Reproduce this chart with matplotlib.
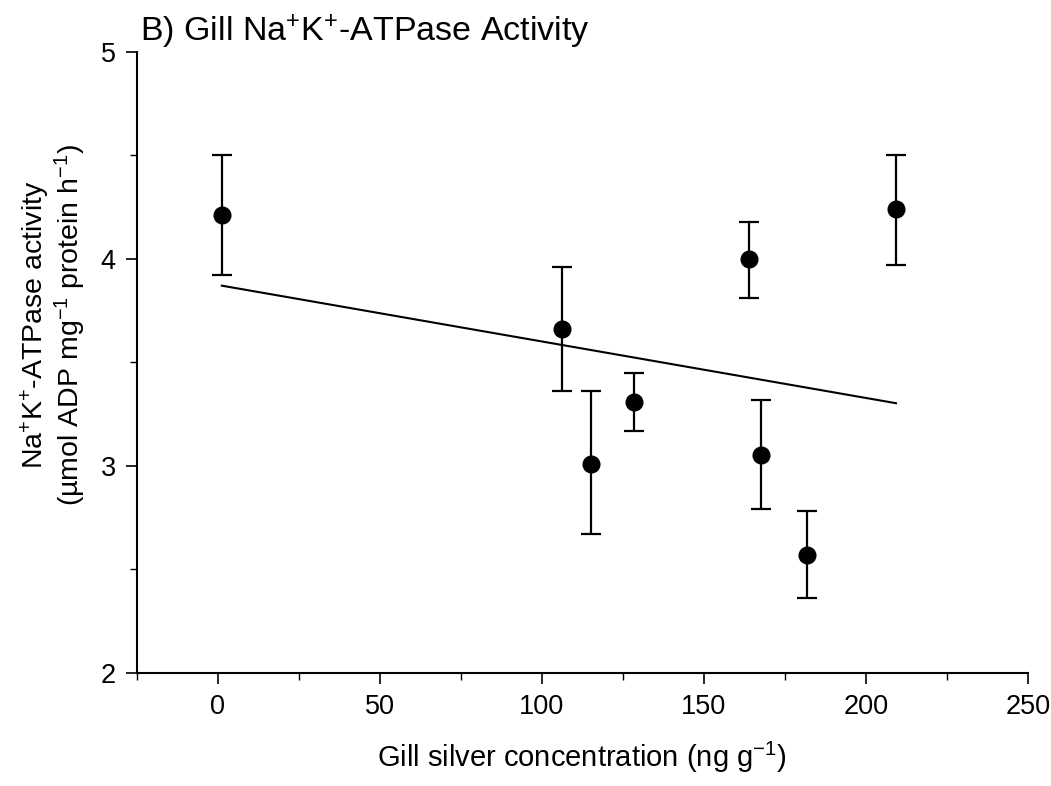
import matplotlib
matplotlib.use('Agg')
import matplotlib.pyplot as plt
import numpy as np
from matplotlib.ticker import MultipleLocator

plt.rcParams['font.family'] = ['Liberation Sans', 'DejaVu Sans']
plt.rcParams['mathtext.fontset'] = 'custom'
plt.rcParams['mathtext.rm'] = 'Liberation Sans'
plt.rcParams['mathtext.it'] = 'Liberation Sans'
plt.rcParams['mathtext.default'] = 'regular'

# values
silver = [1.3, 106.1, 115.2, 128.5, 164.0, 167.7, 181.8, 209.3]
activity = [4.21, 3.66, 3.01, 3.31, 4.00, 3.05, 2.57, 4.24]
err_low = [0.29, 0.30, 0.34, 0.14, 0.19, 0.26, 0.21, 0.27]
err_high = [0.29, 0.30, 0.35, 0.14, 0.18, 0.27, 0.21, 0.26]

# regression line
fit_intercept = 3.874
fit_slope = -0.00273

fig = plt.figure(figsize=(10.51, 7.86), dpi=100)
ax = fig.add_axes([0.130, 0.144, 0.848, 0.790])

ax.errorbar(silver, activity, yerr=[err_low, err_high], fmt='o', color='black',
            markersize=12, ecolor='black', elinewidth=1.6, capsize=7, capthick=1.6)

xfit = np.array([min(silver), max(silver)])
ax.plot(xfit, fit_intercept + fit_slope * xfit, color='black', lw=1.5)

ax.set_xlim(-25, 250)
ax.set_ylim(2, 5)
ax.xaxis.set_major_locator(MultipleLocator(50))
ax.xaxis.set_minor_locator(MultipleLocator(25))
ax.yaxis.set_major_locator(MultipleLocator(1))
ax.yaxis.set_minor_locator(MultipleLocator(0.5))

ax.spines['top'].set_visible(False)
ax.spines['right'].set_visible(False)
ax.spines['left'].set_linewidth(1.5)
ax.spines['bottom'].set_linewidth(1.5)

ax.tick_params(which='major', direction='out', length=8, width=1.2, labelsize=19.5, pad=7)
ax.tick_params(which='minor', direction='out', length=5, width=1.0)

ax.set_xlabel('Gill silver concentration (ng g$^{-1}$)', fontsize=21)
ax.xaxis.set_label_coords(0.5, -0.108)
ax.set_ylabel('Na$^{+}$K$^{+}$-ATPase activity\n(µmol ADP mg$^{-1}$ protein h$^{-1}$)',
              fontsize=20.5, linespacing=1.0)
ax.yaxis.set_label_coords(-0.055, 0.56)

fig.text(0.133, 0.948, 'B) Gill Na$^{+}$K$^{+}$-ATPase Activity', fontsize=24.5)

fig.savefig('out.png', dpi=100)
